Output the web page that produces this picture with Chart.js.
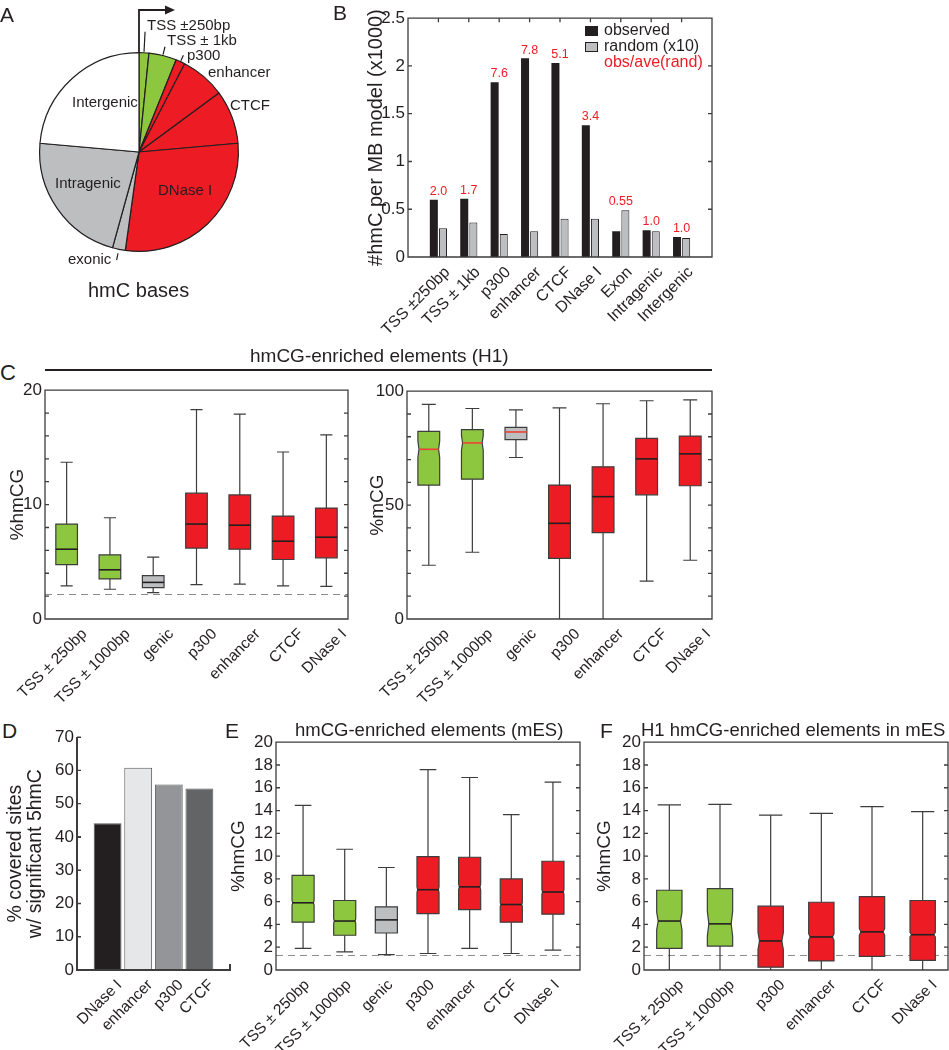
<!DOCTYPE html>
<html>
<head>
<meta charset="utf-8">
<script src="https://cdn.jsdelivr.net/npm/chart.js@4.4.1/dist/chart.umd.min.js"></script>
<style>
  html, body { margin: 0; padding: 0; background: #fff; }
  #fig { position: relative; width: 949px; height: 1050px; overflow: hidden;
         font-family: 'Liberation Sans', Arial, Helvetica, sans-serif; color: #231f20; }
  #fig canvas { position: absolute; }
  .t { position: absolute; white-space: nowrap; line-height: 1; transform: translateY(-50%); }
  .sq { position: absolute; box-sizing: border-box; }
</style>
</head>
<body>
<div id="fig"></div>
<script>
// ---- A: share of hmC bases (%) ----
const pieLabels = ['TSS ±250bp', 'TSS ± 1kb', 'p300', 'enhancer', 'CTCF', 'DNase I', 'exonic', 'Intragenic', 'Intergenic'];
const pieShares = [1.6, 4.5, 1.5, 7.3, 8.7, 28.6, 2.1, 22.1, 23.6];

// ---- B: #hmC per MB model (x1000) ----
const bCats = ['TSS ±250bp', 'TSS ± 1kb', 'p300', 'enhancer', 'CTCF', 'DNase I', 'Exon', 'Intragenic', 'Intergenic'];
const bObserved = [0.60, 0.61, 1.83, 2.08, 2.03, 1.38, 0.27, 0.28, 0.21];
const bRandom = [0.30, 0.36, 0.24, 0.27, 0.40, 0.40, 0.49, 0.27, 0.20];
const bRatio = ['2.0', '1.7', '7.6', '7.8', '5.1', '3.4', '0.55', '1.0', '1.0'];

// ---- C: hmCG-enriched elements (H1) ----
const cCats = ['TSS ± 250bp', 'TSS ± 1000bp', 'genic', 'p300', 'enhancer', 'CTCF', 'DNase I'];
const cHmLo = [2.9, 2.6, 2.3, 3.0, 3.05, 2.9, 2.85];
const cHmQ1 = [4.75, 3.5, 2.75, 6.2, 6.1, 5.2, 5.35];
const cHmMed = [6.1, 4.3, 3.2, 8.3, 8.2, 6.8, 7.15];
const cHmQ3 = [8.3, 5.6, 3.8, 11.0, 10.85, 9.0, 9.7];
const cHmHi = [13.7, 8.85, 5.4, 18.3, 17.9, 14.6, 16.1];
const cHmCut = 2.2;

const cMLo = [23.6, 29.3, 70.9, 0, 0, 16.6, 25.8];
const cMQ1 = [58.8, 61.4, 78.7, 26.6, 37.9, 54.5, 58.5];
const cMMed = [74.5, 77.3, 82.1, 42.0, 53.7, 70.3, 72.5];
const cMQ3 = [82.4, 83.1, 84.1, 58.8, 66.8, 79.3, 80.3];
const cMHi = [94.2, 92.4, 91.8, 92.7, 94.5, 95.8, 96.2];
const cMNotch = [3.6, 3.3, 0, 0, 0, 0, 0];

// ---- D: % covered sites w/ significant 5hmC ----
const dCats = ['DNase I', 'enhancer', 'p300', 'CTCF'];
const dValues = [44.1, 60.8, 55.8, 54.6];

// ---- E: hmCG-enriched elements (mES) ----
const eCats = ['TSS ± 250bp', 'TSS ± 1000bp', 'genic', 'p300', 'enhancer', 'CTCF', 'DNase I'];
const eLo = [1.9, 1.6, 1.35, 1.45, 1.9, 1.45, 1.75];
const eQ1 = [4.2, 3.05, 3.25, 4.95, 5.3, 4.2, 4.9];
const eMed = [5.9, 4.3, 4.4, 7.05, 7.3, 5.75, 6.85];
const eQ3 = [8.3, 6.1, 5.55, 9.95, 9.9, 8.0, 9.55];
const eHi = [14.45, 10.6, 9.0, 17.6, 16.9, 13.65, 16.5];
const eNotch = [0.2, 0.2, 0, 0.25, 0.25, 0.15, 0.2];

// ---- F: H1 hmCG-enriched elements in mES ----
const fCats = ['TSS ± 250bp', 'TSS ± 1000bp', 'p300', 'enhancer', 'CTCF', 'DNase I'];
const fLo = [0, 0, 0, 0, 0, 0];
const fQ1 = [1.9, 2.1, 0.25, 0.8, 1.2, 0.85];
const fMed = [4.3, 4.05, 2.55, 2.9, 3.35, 3.1];
const fQ3 = [7.0, 7.15, 5.6, 5.95, 6.45, 6.1];
const fHi = [14.5, 14.55, 13.6, 13.75, 14.35, 13.9];
const fNotch = [0.77, 1.1, 0.75, 0.3, 0.3, 0.2];
const mesCut = 1.3;

// ---------------------------------------------------------------
const ink = '#231f20', edge = '#3d3d3d';
const green = '#8dc63f', red = '#ed1c24', grey = '#bcbec0';
const family = "'Liberation Sans', Arial, Helvetica, sans-serif";
Chart.defaults.font.family = family;
Chart.defaults.color = ink;

const fig = document.getElementById('fig');
const PAD_R = 24;

function text(str, x, y, size, color) {
  const d = document.createElement('div');
  d.className = 't';
  d.textContent = str;
  d.style.left = x + 'px';
  d.style.top = y + 'px';
  d.style.fontSize = size + 'px';
  if (color) d.style.color = color;
  fig.appendChild(d);
  return d;
}

function square(x, y, w, h, bg, border) {
  const d = document.createElement('div');
  d.className = 'sq';
  Object.assign(d.style, {left: x + 'px', top: y + 'px', width: w + 'px', height: h + 'px', background: bg});
  if (border) d.style.border = border;
  fig.appendChild(d);
  return d;
}

// canvas whose chart area lands on page box L,T,R,B
function place(L, T, R, B, yW, padT, xH) {
  const c = document.createElement('canvas');
  const w = (R - L) + yW + PAD_R, h = (B - T) + padT + xH;
  c.width = w; c.height = h;
  Object.assign(c.style, {left: (L - yW) + 'px', top: (T - padT) + 'px', width: w + 'px', height: h + 'px'});
  fig.appendChild(c);
  return c;
}

function fillFor(cat) {
  if (/TSS/.test(cat)) return green;
  if (cat === 'Intergenic') return '#ffffff';
  if (/genic|exonic/.test(cat)) return grey;
  return red;
}

function baseOptions(padT) {
  return {
    responsive: false, animation: false, devicePixelRatio: 1,
    layout: {padding: {top: padT, right: PAD_R, left: 0, bottom: 0}},
    plugins: {legend: {display: false}, tooltip: {enabled: false}}
  };
}

function xAxis(cats, min, max, size, h, shift) {
  return {
    type: 'linear', min, max, offset: false,
    afterBuildTicks: s => { s.ticks = [min].concat(cats.map((_, i) => i), [max]).map(v => ({value: v})); },
    afterFit: s => { s.height = h; },
    grid: {display: false, drawTicks: false, offset: false}, border: {display: false},
    ticks: {autoSkip: false, minRotation: 45, maxRotation: 45, padding: 6, labelOffset: shift, font: {size},
      callback: v => (Number.isInteger(v) && v >= 0 && v < cats.length) ? cats[v] : ''}
  };
}

function yAxis(min, max, step, every, title, titleSize, lineHeight, w) {
  return {
    type: 'linear', min, max,
    afterBuildTicks: s => {
      const t = [];
      for (let v = min; v <= max + 1e-9; v += step) t.push({value: +v.toFixed(6)});
      s.ticks = t;
    },
    afterFit: s => { s.width = w; },
    grid: {display: false, drawTicks: false}, border: {display: false},
    ticks: {autoSkip: false, padding: 3, font: {size: 17},
      callback: v => Math.abs(v / every - Math.round(v / every)) < 1e-6 ? String(+v.toFixed(2)) : ''},
    title: {display: true, text: title, font: {size: titleSize, lineHeight}, padding: {top: 4, bottom: 4}}
  };
}

// axis frame with inward ticks (matlab look)
function frame(o) {
  return {
    id: 'frame',
    afterDatasetsDraw(chart) {
      const ctx = chart.ctx, a = chart.chartArea, x = chart.scales.x, y = chart.scales.y;
      const t = 4;
      ctx.save();
      ctx.strokeStyle = edge;
      ctx.lineWidth = 1.3;
      ctx.beginPath();
      if (o.box) {
        ctx.rect(a.left, a.top, a.right - a.left, a.bottom - a.top);
      } else {
        ctx.moveTo(a.left, a.top);
        ctx.lineTo(a.left, a.bottom);
        ctx.lineTo(a.right, a.bottom);
        ctx.lineTo(a.right, a.bottom - o.endTick);
      }
      y.ticks.forEach(k => {
        const py = y.getPixelForValue(k.value);
        ctx.moveTo(a.left, py); ctx.lineTo(a.left + t, py);
        if (o.box) { ctx.moveTo(a.right, py); ctx.lineTo(a.right - t, py); }
      });
      for (let i = 0; i < (o.topTicks || 0); i++) {
        const px = x.getPixelForValue(i);
        ctx.moveTo(px, a.top); ctx.lineTo(px, a.top + t);
      }
      ctx.stroke();
      ctx.restore();
    }
  };
}

// box-and-whisker drawing through the chart scales
function boxPlot(cats, st, look) {
  return {
    id: 'boxes',
    beforeDatasetsDraw(chart) {
      const {ctx, chartArea: a, scales: {x, y}} = chart;
      const py = v => y.getPixelForValue(v);
      ctx.save();
      if (st.cut != null) {
        const yy = Math.round(py(st.cut)) + 0.5;
        ctx.strokeStyle = '#8c8c8c'; ctx.lineWidth = 1; ctx.setLineDash([7, 5]);
        ctx.beginPath(); ctx.moveTo(a.left, yy); ctx.lineTo(a.right, yy); ctx.stroke();
        ctx.setLineDash([]);
      }
      st.med.forEach((m, i) => {
        const cx = x.getPixelForValue(i);
        const hw = x.getPixelForValue(i + look.box / 2) - cx;
        const cw = x.getPixelForValue(i + look.cap / 2) - cx;
        ctx.strokeStyle = edge; ctx.lineWidth = 1.2;
        ctx.beginPath();
        ctx.moveTo(cx, py(st.hi[i])); ctx.lineTo(cx, py(st.q3[i]));
        ctx.moveTo(cx, py(st.q1[i])); ctx.lineTo(cx, py(st.lo[i]));
        ctx.moveTo(cx - cw, py(st.hi[i])); ctx.lineTo(cx + cw, py(st.hi[i]));
        if (st.lo[i] > 0) { ctx.moveTo(cx - cw, py(st.lo[i])); ctx.lineTo(cx + cw, py(st.lo[i])); }
        ctx.stroke();

        const n = st.notch ? st.notch[i] : 0;
        const d = n ? hw * look.depth : 0;
        const L = cx - hw, R = cx + hw;
        ctx.beginPath();
        ctx.moveTo(L, py(st.q3[i])); ctx.lineTo(R, py(st.q3[i]));
        if (n) { ctx.lineTo(R, py(m + n)); ctx.lineTo(R - d, py(m)); ctx.lineTo(R, py(m - n)); }
        ctx.lineTo(R, py(st.q1[i])); ctx.lineTo(L, py(st.q1[i]));
        if (n) { ctx.lineTo(L, py(m - n)); ctx.lineTo(L + d, py(m)); ctx.lineTo(L, py(m + n)); }
        ctx.closePath();
        ctx.fillStyle = fillFor(cats[i]);
        ctx.fill(); ctx.stroke();

        ctx.strokeStyle = look.redMedian && i < look.redMedian ? '#ef4136' : ink;
        ctx.lineWidth = 1.6;
        ctx.beginPath(); ctx.moveTo(L + d, py(m)); ctx.lineTo(R - d, py(m)); ctx.stroke();
      });
      ctx.restore();
    }
  };
}

function boxChart(canvas, cats, st, look, xr, yAx, padT, xH, shift) {
  const opts = baseOptions(padT);
  opts.scales = {x: xAxis(cats, xr[0], xr[1], 15.5, xH, shift), y: yAx};
  return new Chart(canvas, {
    type: 'scatter',
    data: {datasets: [{data: st.med.map((v, i) => ({x: i, y: v})), pointRadius: 0}]},
    options: opts,
    plugins: [boxPlot(cats, st, look), frame({box: true})]
  });
}

// ---------------- A ----------------
const pieCanvas = document.createElement('canvas');
pieCanvas.width = 280; pieCanvas.height = 280;
Object.assign(pieCanvas.style, {left: '0px', top: '0px', width: '280px', height: '280px'});
fig.appendChild(pieCanvas);

const leaders = {'TSS ±250bp': [1, 21], 'TSS ± 1kb': [1, 9], 'p300': [1, 7], 'exonic': [4, 11]};
const pieMarks = {
  id: 'pieMarks',
  afterDatasetsDraw(chart) {
    const arcs = chart.getDatasetMeta(0).data;
    const {ctx} = chart;
    const cx = arcs[0].x, cy = arcs[0].y, r = arcs[0].outerRadius;
    ctx.save();
    ctx.strokeStyle = ink; ctx.fillStyle = ink;
    ctx.lineWidth = 1.8;
    ctx.beginPath(); ctx.moveTo(cx, cy - r); ctx.lineTo(cx, 10); ctx.lineTo(cx + 28, 10); ctx.stroke();
    ctx.beginPath(); ctx.moveTo(cx + 36, 10); ctx.lineTo(cx + 26, 5.5); ctx.lineTo(cx + 26, 14.5); ctx.closePath(); ctx.fill();
    ctx.lineWidth = 1.2;
    arcs.forEach((arc, i) => {
      const span = leaders[pieLabels[i]];
      if (!span) return;
      const ang = (arc.startAngle + arc.endAngle) / 2;
      ctx.beginPath();
      ctx.moveTo(cx + Math.cos(ang) * (r + span[0]), cy + Math.sin(ang) * (r + span[0]));
      ctx.lineTo(cx + Math.cos(ang) * (r + span[1]), cy + Math.sin(ang) * (r + span[1]));
      ctx.stroke();
    });
    ctx.restore();
  }
};

new Chart(pieCanvas, {
  type: 'pie',
  data: {
    labels: pieLabels,
    datasets: [{
      data: pieShares,
      backgroundColor: pieLabels.map(fillFor),
      borderColor: ink,
      borderWidth: 1.2
    }]
  },
  options: {
    responsive: false, animation: false, devicePixelRatio: 1,
    layout: {padding: {left: 39, top: 52, right: 41, bottom: 28}},
    plugins: {legend: {display: false}, tooltip: {enabled: false}}
  },
  plugins: [pieMarks]
});

text('A', 0, 14, 21);
text('TSS ±250bp', 147, 24, 15);
text('TSS ± 1kb', 167, 39, 15);
text('p300', 187, 54, 15);
text('enhancer', 208, 71, 15);
text('CTCF', 230, 104, 15);
text('Intergenic', 72, 101, 15);
text('Intragenic', 55, 182, 15);
text('DNase I', 158, 189, 15);
text('exonic', 68, 258, 15);
text('hmC bases', 88, 290, 20);

// ---------------- B ----------------
const ratioLabels = {
  id: 'ratioLabels',
  afterDatasetsDraw(chart) {
    const {ctx, scales: {x, y}} = chart;
    ctx.save();
    ctx.fillStyle = red;
    ctx.font = '12.5px ' + family;
    ctx.textAlign = 'center';
    ctx.textBaseline = 'bottom';
    bRatio.forEach((s, i) => {
      ctx.fillText(s, x.getPixelForValue(i), y.getPixelForValue(Math.max(bObserved[i], bRandom[i])) - 2);
    });
    ctx.restore();
  }
};

const bOpts = baseOptions(12);
bOpts.scales = {
  x: xAxis(bCats, -1, 9, 16, 95, 9),
  y: yAxis(0, 2.5, 0.5, 0.5, '#hmC per MB model (x1000)', 20, 1.2, 48)
};
new Chart(place(408, 17, 712, 257, 48, 12, 95), {
  type: 'bar',
  data: {datasets: [
    {label: 'observed', data: bObserved.map((v, i) => ({x: i, y: v})), backgroundColor: ink,
      borderWidth: 0, categoryPercentage: 0.6, barPercentage: 0.88},
    {label: 'random (x10)', data: bRandom.map((v, i) => ({x: i, y: v})), backgroundColor: grey,
      borderColor: ink, borderWidth: 1, categoryPercentage: 0.6, barPercentage: 0.88}
  ]},
  options: bOpts,
  plugins: [ratioLabels, frame({box: true, topTicks: bCats.length})]
});

text('B', 333, 12, 21);
square(585, 26, 13, 10, ink);
square(585, 42, 13, 10, grey, '1px solid ' + ink);
text('observed', 604, 30, 16);
text('random (x10)', 604, 46, 16);
text('obs/ave(rand)', 604, 62, 16, red);

// ---------------- C ----------------
text('C', 0, 373, 22);
text('hmCG-enriched elements (H1)', 250, 355, 19);
square(45, 369, 667, 2, ink);

boxChart(place(45, 389, 348, 619, 43, 12, 95), cCats,
  {lo: cHmLo, q1: cHmQ1, med: cHmMed, q3: cHmQ3, hi: cHmHi, cut: cHmCut},
  {box: 0.5, cap: 0.28, depth: 0},
  [-0.5, 6.5], yAxis(0, 20, 2, 10, '%hmCG', 19, 1.2, 43), 12, 95, 18);

boxChart(place(407, 390, 712, 619, 45, 12, 95), cCats,
  {lo: cMLo, q1: cMQ1, med: cMMed, q3: cMQ3, hi: cMHi, notch: cMNotch},
  {box: 0.5, cap: 0.32, depth: 0.1, redMedian: 3},
  [-0.5, 6.5], yAxis(0, 100, 10, 50, '%mCG', 19, 1.2, 45), 12, 95, 18);

// ---------------- D ----------------
text('D', 2, 730, 21);
const dOpts = baseOptions(12);
dOpts.scales = {
  x: xAxis(dCats, -1, 4, 15.5, 75, 12),
  y: yAxis(0, 70, 10, 10, ['% covered sites', 'w/ significant 5hmC'], 19.5, 1.0, 75)
};
const dCanvas = place(77, 736, 230, 970, 75, 12, 75);
const dChart = new Chart(dCanvas, {
  type: 'bar',
  data: {datasets: [{
    data: dValues.map((v, i) => ({x: i, y: v})),
    backgroundColor: ['#231f20', '#e6e7e8', '#939598', '#636466'],
    borderColor: '#58595b', borderWidth: 1, borderSkipped: 'bottom',
    categoryPercentage: 1, barPercentage: 0.91
  }]},
  options: dOpts,
  plugins: [frame({box: false, endTick: 6})]
});

// ---------------- E ----------------
text('E', 225, 730, 21);
text('hmCG-enriched elements (mES)', 295, 730, 18.5);
boxChart(place(276, 741, 580, 970, 53, 12, 80), eCats,
  {lo: eLo, q1: eQ1, med: eMed, q3: eQ3, hi: eHi, notch: eNotch, cut: mesCut},
  {box: 0.53, cap: 0.4, depth: 0.06},
  [-0.65, 6.65], yAxis(0, 20, 2, 2, '%hmCG', 19, 1.2, 53), 12, 80, 4);

// ---------------- F ----------------
text('F', 600, 730, 21);
text('H1 hmCG-enriched elements in mES', 641, 730, 18.5);
boxChart(place(644, 741, 948, 970, 55, 12, 80), fCats,
  {lo: fLo, q1: fQ1, med: fMed, q3: fQ3, hi: fHi, notch: fNotch, cut: mesCut},
  {box: 0.5, cap: 0.46, depth: 0.12},
  [-0.5, 5.5], yAxis(0, 20, 2, 2, '%hmCG', 19, 1.2, 55), 12, 80, 12);

// D axis lines on top of everything, placed from the D chart's own area and scale
(function () {
  const a = dChart.chartArea, y = dChart.scales.y;
  const ox = parseFloat(dCanvas.style.left), oy = parseFloat(dCanvas.style.top);
  const L = ox + a.left, T = oy + a.top, R = ox + a.right, B = oy + a.bottom;
  square(L - 0.7, T, 1.4, B - T + 0.7, edge);
  square(L - 0.7, B - 0.7, R - L + 1.4, 1.4, edge);
  square(R - 0.7, B - 6, 1.4, 6, edge);
  y.ticks.forEach(k => square(L, oy + y.getPixelForValue(k.value) - 0.6, 4, 1.2, edge));
})();
</script>
</body>
</html>
